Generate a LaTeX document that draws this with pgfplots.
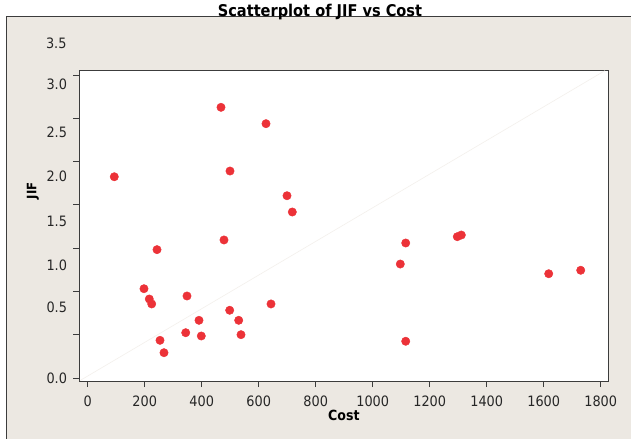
\documentclass[border=0pt]{standalone}
\usepackage{fontspec}
\setmainfont{DejaVu Sans Condensed}
\usepackage{pgfplots}
\pgfplotsset{compat=1.18}
\definecolor{panel}{RGB}{236,232,226}
\definecolor{frame}{RGB}{60,60,60}
\definecolor{dot}{RGB}{236,50,56}
\definecolor{faint}{RGB}{243,240,236}

\begin{document}
\begin{tikzpicture}
% panel behind the axis (axis box is 529.7bp x 311.7bp at the origin)
\fill[panel] (-73bp,-57.3bp) rectangle (553bp,365.7bp);
\draw[frame, line width=0.9bp] (-73bp,-58bp) -- (-73bp,365.7bp) -- (553bp,365.7bp);
\begin{axis}[
    scale only axis,
    width=529.7bp, height=311.7bp,
    xmin=-30.5, xmax=1828,
    ymin=-0.043, ymax=3.557,
    axis background/.style={fill=white},
    axis line style={frame, line width=0.9bp},
    tick align=outside,
    xtick pos=bottom, ytick pos=left,
    major tick style={frame, line width=0.8bp},
    major tick length=5.5bp,
    xtick={0,200,...,1800},
    xticklabels={\raisebox{-3bp}{0},200,400,600,800,1000,1200,1400,1600,1800},
    ytick={0,0.5,...,3.5},
    yticklabels={},
    extra y ticks={3.389,2.841,2.333,1.813,1.305,0.820,-0.008},
    extra y tick labels={3.0,2.5,2.0,1.5,1.0,0.5,0.0},
    extra y tick style={tick style={draw=none},
        yticklabel style={xshift=1.5bp}},
    tick label style={font=\fontsize{14.3bp}{16bp}\selectfont, text=black!85},
    yticklabel style={xshift=-4.5bp},
    xticklabel style={yshift=-5.5bp},
    title={\textbf{Scatterplot of JIF vs Cost}},
    title style={at={(axis description cs:0.455,1)}, anchor=base, yshift=48bp,
        inner sep=0pt, font=\fontsize{16.2bp}{18bp}\selectfont},
    xlabel={\textbf{Cost}},
    xlabel style={at={(axis description cs:0.5,0)}, anchor=center, yshift=-34bp,
        font=\fontsize{14bp}{16bp}\selectfont},
    ylabel={\textbf{JIF}},
    ylabel style={at={(axis description cs:0,0.612)}, anchor=center, yshift=46bp,
        font=\fontsize{13bp}{15bp}\selectfont},
    clip=false,
]
\addplot[faint, line width=0.6bp] coordinates {(-27,-0.03) (1815,3.55)};
\addplot[only marks, mark=*, mark size=4.2bp, mark options={draw=dot, fill=dot}]
coordinates {
(467.7,3.126) (625.6,2.937) (93.3,2.324) (499.3,2.390) (699.3,2.105) (717.9,1.917)
(478.2,1.594) (243.2,1.482) (197.5,1.031) (216.1,0.912) (224.6,0.855) (348.4,0.947)
(643.2,0.855) (498.2,0.782) (390.5,0.666) (529.8,0.666) (343.9,0.523) (398.6,0.485)
(537.9,0.500) (253.7,0.435) (267.7,0.292)
(1115.8,1.559) (1096.8,1.316) (1296.8,1.632) (1310.9,1.651) (1617.5,1.204)
(1729.8,1.244) (1115.8,0.424)
};
\node[anchor=east, font=\fontsize{14.3bp}{16bp}\selectfont, text=black!85]
    at (axis description cs:0,1) [xshift=-9bp, yshift=27bp] {3.5};
\end{axis}
\pgfresetboundingbox
\path[use as bounding box] (-79bp,-57.3bp) rectangle (552bp,381.7bp);
\end{tikzpicture}
\end{document}
